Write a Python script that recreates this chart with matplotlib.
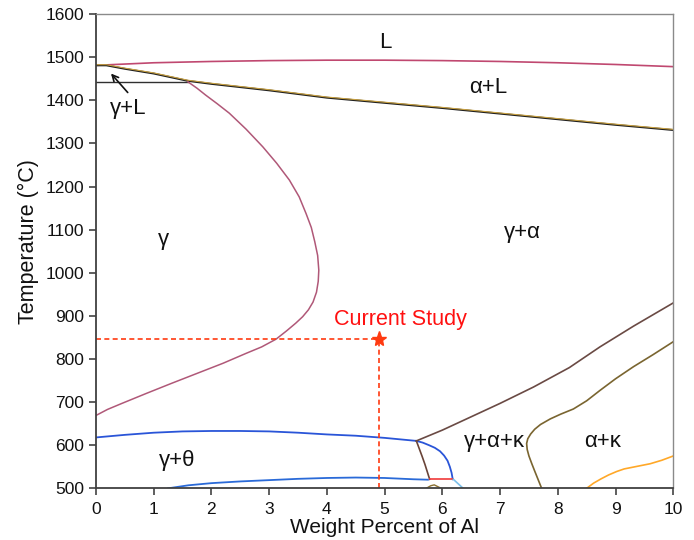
import matplotlib
matplotlib.use("Agg")
import matplotlib.pyplot as plt

plt.rcParams['font.family'] = ['Liberation Sans', 'DejaVu Sans']

# Phase boundaries, Fe-Mn-Al-C section (wt.% Al vs. temperature)
liq_x = [0, 1, 2, 3, 4, 5, 6, 7, 8, 9, 10]
liq_t = [1481, 1487, 1490, 1492, 1493, 1493, 1492, 1490, 1487, 1483, 1478]

sol_x = [0, 0.18, 0.5, 1, 1.59, 2, 3, 4, 5, 6, 7, 8, 9, 10]
sol_t = [1481, 1481, 1473, 1462, 1445, 1438, 1423, 1406, 1394, 1382, 1369, 1356, 1343, 1331]

peri_x = [0, 1.59]
peri_t = [1443, 1443]

gam_x = [1.59, 1.75, 1.9, 2.1, 2.31, 2.6, 2.89, 3.13, 3.35, 3.52, 3.64, 3.73,
         3.79, 3.84, 3.86, 3.85, 3.82, 3.76, 3.68, 3.58, 3.46, 3.3, 3.12, 2.87, 2.6,
         2.2, 1.74, 1.3, 0.87, 0.45, 0.2, 0]
gam_t = [1443, 1428, 1412, 1392, 1370, 1333, 1292, 1254, 1215, 1176, 1137, 1105,
         1072, 1040, 1006, 980, 955, 932, 914, 898, 883, 865, 846, 828, 813,
         790, 766, 743, 720, 697, 683, 669]

theta_top_x = [0, 0.5, 1, 1.5, 2, 2.5, 3, 3.5, 4, 4.5, 5, 5.55]
theta_top_t = [618, 624, 629, 632, 633, 633, 632, 629, 625, 622, 617, 610]

theta_low_x = [1.25, 1.6, 2, 2.5, 3, 3.5, 4, 4.5, 5, 5.5, 5.75]
theta_low_t = [500, 507, 512, 516, 519, 522, 524, 525, 524, 521, 520]

blue_arc_x = [5.55, 5.66, 5.77, 5.87, 5.96, 6.03, 6.09, 6.13, 6.16, 6.18]
blue_arc_t = [610, 606, 600, 594, 586, 576, 564, 550, 536, 521]

brown_short_x = [5.55, 5.6, 5.65, 5.7, 5.74, 5.78]
brown_short_t = [610, 592, 574, 555, 538, 521]

red_x = [5.78, 6.19]
red_t = [521, 521]

lblue_x = [6.19, 6.36]
lblue_t = [521, 500]

olive_small_x = [5.72, 5.8, 5.86, 5.92, 5.98]
olive_small_t = [500, 506, 508, 504, 500]

kappa_x = [5.55, 6, 6.42, 7, 7.58, 8.2, 8.73, 9.31, 10]
kappa_t = [610, 635, 661, 697, 735, 780, 828, 876, 930]

olive_x = [7.72, 7.66, 7.6, 7.55, 7.5, 7.47, 7.46, 7.48, 7.53, 7.6, 7.7, 7.87,
           8.05, 8.27, 8.5, 8.73, 9.0, 9.31, 9.65, 10]
olive_t = [500, 520, 540, 557, 575, 590, 604, 615, 626, 637, 648, 661,
           672, 684, 703, 727, 754, 782, 810, 840]

orange_x = [8.5, 8.62, 8.75, 8.88, 9.02, 9.15, 9.3, 9.45, 9.6, 9.8, 10]
orange_t = [500, 512, 522, 531, 539, 545, 549, 553, 557, 565, 575]

study_al = 4.91
study_t = 847

x_ticks = list(range(0, 11))
y_ticks = list(range(500, 1601, 100))

fig = plt.figure(figsize=(6.94, 5.4), dpi=100)
ax = fig.add_axes([0.1383, 0.0957, 0.8318, 0.8783])

ax.plot(liq_x, liq_t, color='#c04870', lw=1.2)
ax.plot(sol_x, sol_t, color='#202020', lw=1.4)
ax.plot(sol_x, [t + 1.5 for t in sol_t], color='#c8a040', lw=0.8)
ax.plot(peri_x, peri_t, color='#303030', lw=1.0)
ax.plot(gam_x, gam_t, color='#b05878', lw=1.1)
ax.plot(theta_top_x, theta_top_t, color='#2a55d8', lw=1.3)
ax.plot(theta_low_x, theta_low_t, color='#2a6ad8', lw=1.3)
ax.plot(blue_arc_x, blue_arc_t, color='#2a55d8', lw=1.3)
ax.plot(brown_short_x, brown_short_t, color='#6a4438', lw=1.2)
ax.plot(red_x, red_t, color='#f03a3a', lw=1.2)
ax.plot(lblue_x, lblue_t, color='#7cc0ea', lw=1.2)
ax.plot(olive_small_x, olive_small_t, color='#8a7030', lw=1.0)
ax.plot(kappa_x, kappa_t, color='#6a4a44', lw=1.2)
ax.plot(olive_x, olive_t, color='#7a6530', lw=1.2)
ax.plot(orange_x, orange_t, color='#ffa828', lw=1.2)

# Composition / temperature used in this work
ax.plot([0, study_al], [study_t, study_t], color='#ff3a10', lw=1.2, ls=(0, (3, 2)))
ax.plot([study_al, study_al], [500, study_t], color='#ff3a10', lw=1.2, ls=(0, (3, 2)))
ax.plot([study_al], [study_t], marker='*', color='#ff3a10', ms=11, mec='#ff3a10')
ax.text(5.27, 892, 'Current Study', color='#ff1010', fontsize=15.5,
        ha='center', va='center')

# Phase field labels
lab = dict(fontsize=16, ha='center', va='center', color='#111111')
ax.text(5.01, 1535, 'L', **lab)
ax.text(6.79, 1430, 'α+L', **lab)
ax.text(1.17, 1076, 'γ', **lab)
ax.text(7.38, 1094, 'γ+α', **lab)
ax.text(1.41, 565, 'γ+θ', **lab)
ax.text(6.9, 609, 'γ+α+κ', **lab)
ax.text(8.78, 609, 'α+κ', **lab)
ax.text(0.56, 1380, 'γ+L', **lab)
ax.annotate('', xy=(0.26, 1462), xytext=(0.55, 1418),
            arrowprops=dict(arrowstyle='->', color='#111111', lw=1.2,
                            shrinkA=0, shrinkB=0, mutation_scale=11))

ax.set_xlim(0, 10)
ax.set_ylim(500, 1600)
ax.set_xticks(x_ticks)
ax.set_yticks(y_ticks)
ax.tick_params(axis='both', labelsize=12.5, length=5, width=1.1,
               direction='out', colors='#333333', labelcolor='#111111')
ax.tick_params(axis='x', pad=4.5)
for side in ('left', 'bottom'):
    ax.spines[side].set_color('#404040')
    ax.spines[side].set_linewidth(1.3)
for side in ('top', 'right'):
    ax.spines[side].set_color('#8a8a8a')
    ax.spines[side].set_linewidth(1.0)

ax.set_xlabel('Weight Percent of Al', fontsize=15, color='#111111')
ax.set_ylabel('Temperature (°C)', fontsize=15.5, color='#111111')
ax.xaxis.set_label_coords(0.5, -0.063)
ax.yaxis.set_label_coords(-0.098, 0.521)

fig.savefig('out.png', dpi=100)
